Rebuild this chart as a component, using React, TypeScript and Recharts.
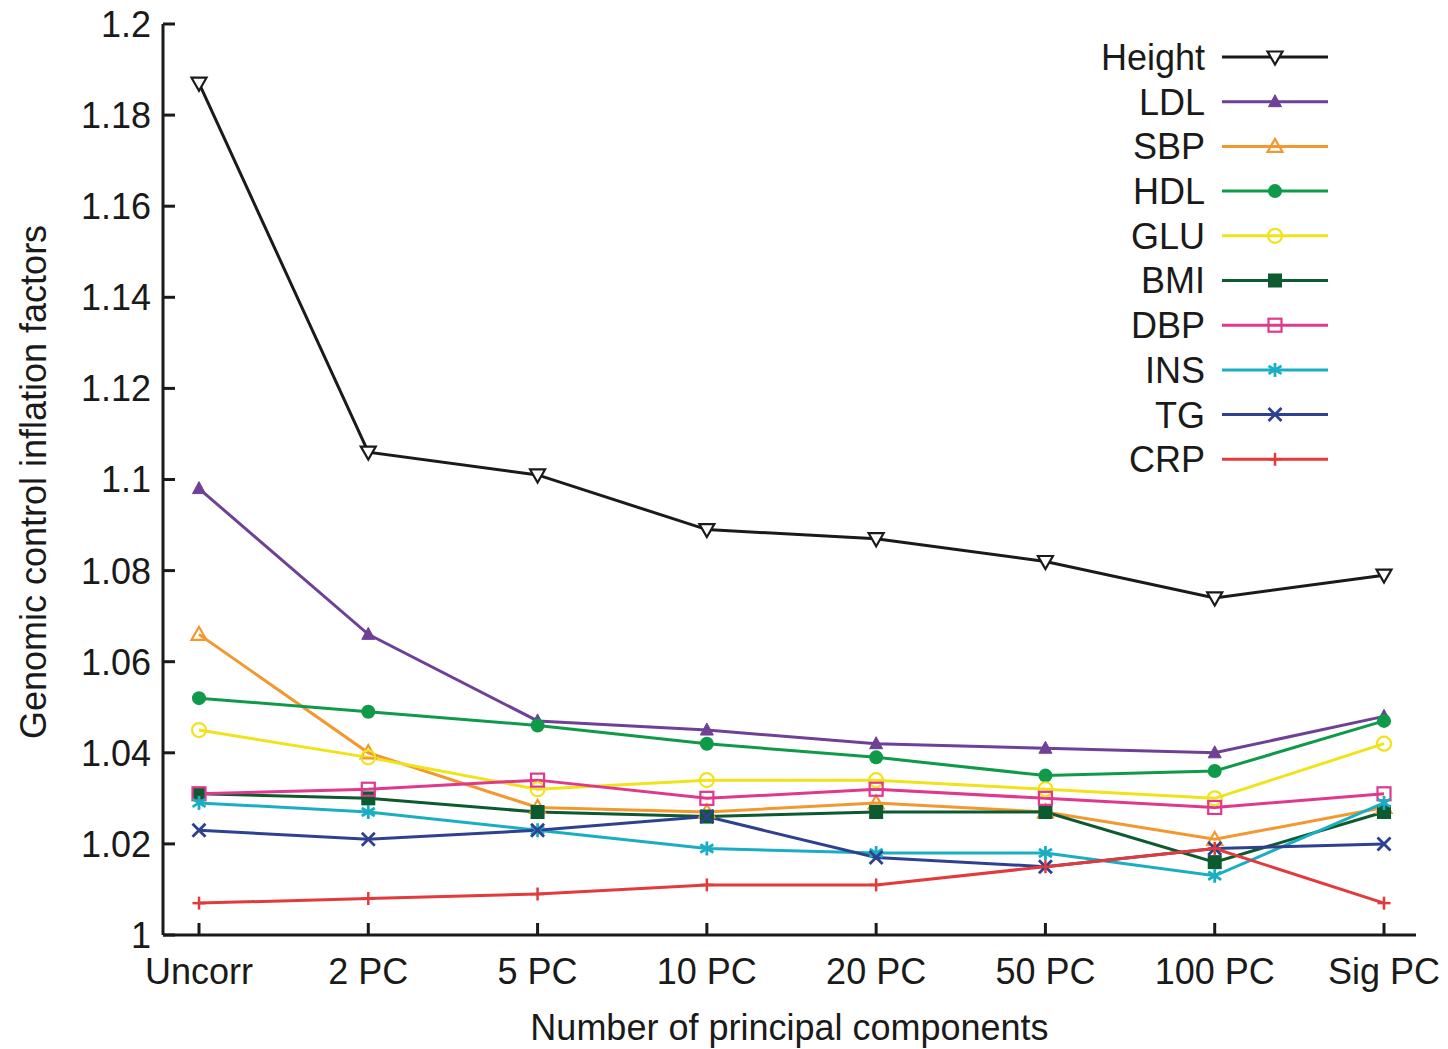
import React from 'react'
import { LineChart, Line, XAxis, YAxis, Label } from 'recharts'

// categories along the x axis
const categories = ['Uncorr', '2 PC', '5 PC', '10 PC', '20 PC', '50 PC', '100 PC', 'Sig PC']
const yTicks = [1, 1.02, 1.04, 1.06, 1.08, 1.1, 1.12, 1.14, 1.16, 1.18, 1.2]

// inflation factors
const height = [1.187, 1.106, 1.101, 1.089, 1.087, 1.082, 1.074, 1.079]
const ldl = [1.098, 1.066, 1.047, 1.045, 1.042, 1.041, 1.04, 1.048]
const sbp = [1.066, 1.04, 1.028, 1.027, 1.029, 1.027, 1.021, 1.028]
const hdl = [1.052, 1.049, 1.046, 1.042, 1.039, 1.035, 1.036, 1.047]
const glu = [1.045, 1.039, 1.032, 1.034, 1.034, 1.032, 1.03, 1.042]
const bmi = [1.031, 1.03, 1.027, 1.026, 1.027, 1.027, 1.016, 1.027]
const dbp = [1.031, 1.032, 1.034, 1.03, 1.032, 1.03, 1.028, 1.031]
const ins = [1.029, 1.027, 1.023, 1.019, 1.018, 1.018, 1.013, 1.029]
const tg = [1.023, 1.021, 1.023, 1.026, 1.017, 1.015, 1.019, 1.02]
const crp = [1.007, 1.008, 1.009, 1.011, 1.011, 1.015, 1.019, 1.007]

type Shape = 'triDownOpen' | 'triUp' | 'triUpOpen' | 'circle' | 'circleOpen' | 'square' | 'squareOpen' | 'star' | 'cross' | 'plus'

const series: { key: string; values: number[]; color: string; shape: Shape }[] = [
  { key: 'Height', values: height, color: '#1a1a1a', shape: 'triDownOpen' },
  { key: 'LDL', values: ldl, color: '#6e4196', shape: 'triUp' },
  { key: 'SBP', values: sbp, color: '#f2982f', shape: 'triUpOpen' },
  { key: 'HDL', values: hdl, color: '#0f9a4a', shape: 'circle' },
  { key: 'GLU', values: glu, color: '#f0e31c', shape: 'circleOpen' },
  { key: 'BMI', values: bmi, color: '#0b5a30', shape: 'square' },
  { key: 'DBP', values: dbp, color: '#e0388c', shape: 'squareOpen' },
  { key: 'INS', values: ins, color: '#1aaec2', shape: 'star' },
  { key: 'TG', values: tg, color: '#2f4090', shape: 'cross' },
  { key: 'CRP', values: crp, color: '#e33a3c', shape: 'plus' },
]

const data = categories.map((c, i) => {
  const row: Record<string, string | number> = { name: c }
  series.forEach(s => { row[s.key] = s.values[i] })
  return row
})

const FONT = '"Liberation Sans", Arial, Helvetica, sans-serif'

function Marker({ shape, color, cx, cy }: { shape: Shape; color: string; cx: number; cy: number }) {
  const w = 2.2
  switch (shape) {
    case 'triDownOpen':
      return <path d={`M${cx - 7.5},${cy - 5.5} L${cx + 7.5},${cy - 5.5} L${cx},${cy + 7.5} Z`} fill="#fff" stroke={color} strokeWidth={w} />
    case 'triUp':
      return <path d={`M${cx - 6.5},${cy + 5} L${cx + 6.5},${cy + 5} L${cx},${cy - 7} Z`} fill={color} stroke={color} strokeWidth={1} />
    case 'triUpOpen':
      return <path d={`M${cx - 7.5},${cy + 5.5} L${cx + 7.5},${cy + 5.5} L${cx},${cy - 7.5} Z`} fill="none" stroke={color} strokeWidth={w} />
    case 'circle':
      return <circle cx={cx} cy={cy} r={7} fill={color} />
    case 'circleOpen':
      return <circle cx={cx} cy={cy} r={7} fill="none" stroke={color} strokeWidth={w} />
    case 'square':
      return <rect x={cx - 7} y={cy - 7} width={14} height={14} fill={color} />
    case 'squareOpen':
      return <rect x={cx - 6.5} y={cy - 6.5} width={13} height={13} fill="none" stroke={color} strokeWidth={w} />
    case 'star':
      return (
        <g stroke={color} strokeWidth={2.8}>
          <line x1={cx} y1={cy - 7} x2={cx} y2={cy + 7} />
          <line x1={cx - 6.5} y1={cy - 4} x2={cx + 6.5} y2={cy + 4} />
          <line x1={cx - 6.5} y1={cy + 4} x2={cx + 6.5} y2={cy - 4} />
        </g>
      )
    case 'cross':
      return (
        <g stroke={color} strokeWidth={2.8}>
          <line x1={cx - 6.5} y1={cy - 6.5} x2={cx + 6.5} y2={cy + 6.5} />
          <line x1={cx - 6.5} y1={cy + 6.5} x2={cx + 6.5} y2={cy - 6.5} />
        </g>
      )
    case 'plus':
      return (
        <g stroke={color} strokeWidth={2.5}>
          <line x1={cx} y1={cy - 6.5} x2={cx} y2={cy + 6.5} />
          <line x1={cx - 6.5} y1={cy} x2={cx + 6.5} y2={cy} />
        </g>
      )
  }
  return null
}

const YTick = ({ x, y, payload }: any) => (
  <g>
    <line x1={x} x2={x + 12} y1={y} y2={y} stroke="#1a1a1a" strokeWidth={3} />
    <text x={x - 12} y={y} dy="0.36em" textAnchor="end" fontFamily={FONT} fontSize={36} fill="#1a1a1a">
      {payload.value}
    </text>
  </g>
)

const XTick = ({ x, y, payload }: any) => (
  <g>
    <line x1={x} x2={x} y1={y} y2={y - 12} stroke="#1a1a1a" strokeWidth={3} />
    <text x={x} y={y + 49} textAnchor="middle" fontFamily={FONT} fontSize={36} fill="#1a1a1a">
      {payload.value}
    </text>
  </g>
)

function ChartLegend() {
  return (
    <svg width={260} height={450} style={{ position: 'absolute', left: 1090, top: 30 }}>
      {series.map((s, i) => {
        const cy = 27 + i * 44.7
        return (
          <g key={s.key}>
            <text x={115} y={cy} dy="0.36em" textAnchor="end" fontFamily={FONT} fontSize={36} fill="#1a1a1a">
              {s.key}
            </text>
            <line x1={132} x2={238} y1={cy} y2={cy} stroke={s.color} strokeWidth={3} />
            <Marker shape={s.shape} color={s.color} cx={185} cy={cy} />
          </g>
        )
      })}
    </svg>
  )
}

export default function App() {
  return (
    <div style={{ position: 'absolute', left: 0, top: 0, width: 1448, height: 1049, background: '#fff' }}>
      <LineChart width={1448} height={1049} data={data} margin={{ top: 24, right: 32, bottom: 0, left: 0 }}>
        <XAxis
          dataKey="name"
          height={114}
          padding={{ left: 36, right: 32 }}
          tickSize={0}
          tickMargin={0}
          tickLine={false}
          axisLine={{ stroke: '#1a1a1a', strokeWidth: 3 }}
          tick={<XTick />}
          interval={0}
        >
          <Label value="Number of principal components" position="insideBottom" offset={9}
            style={{ fontFamily: FONT, fontSize: 36, fill: '#1a1a1a' }} />
        </XAxis>
        <YAxis
          type="number"
          domain={[1, 1.2]}
          ticks={yTicks}
          width={163}
          tickSize={0}
          tickMargin={0}
          tickLine={false}
          axisLine={{ stroke: '#1a1a1a', strokeWidth: 3 }}
          tick={<YTick />}
          interval={0}
        >
          <Label
            content={() => (
              <text x={46} y={482} transform="rotate(-90, 46, 482)" textAnchor="middle"
                fontFamily={FONT} fontSize={36} fill="#1a1a1a">
                Genomic control inflation factors
              </text>
            )}
          />
        </YAxis>
        {series.map(s => (
          <Line
            key={s.key}
            dataKey={s.key}
            stroke={s.color}
            strokeWidth={3}
            isAnimationActive={false}
            dot={(p: any) => <Marker key={`${s.key}-${p.index}`} shape={s.shape} color={s.color} cx={p.cx} cy={p.cy} />}
            activeDot={false}
          />
        ))}
      </LineChart>
      <ChartLegend />
    </div>
  )
}
